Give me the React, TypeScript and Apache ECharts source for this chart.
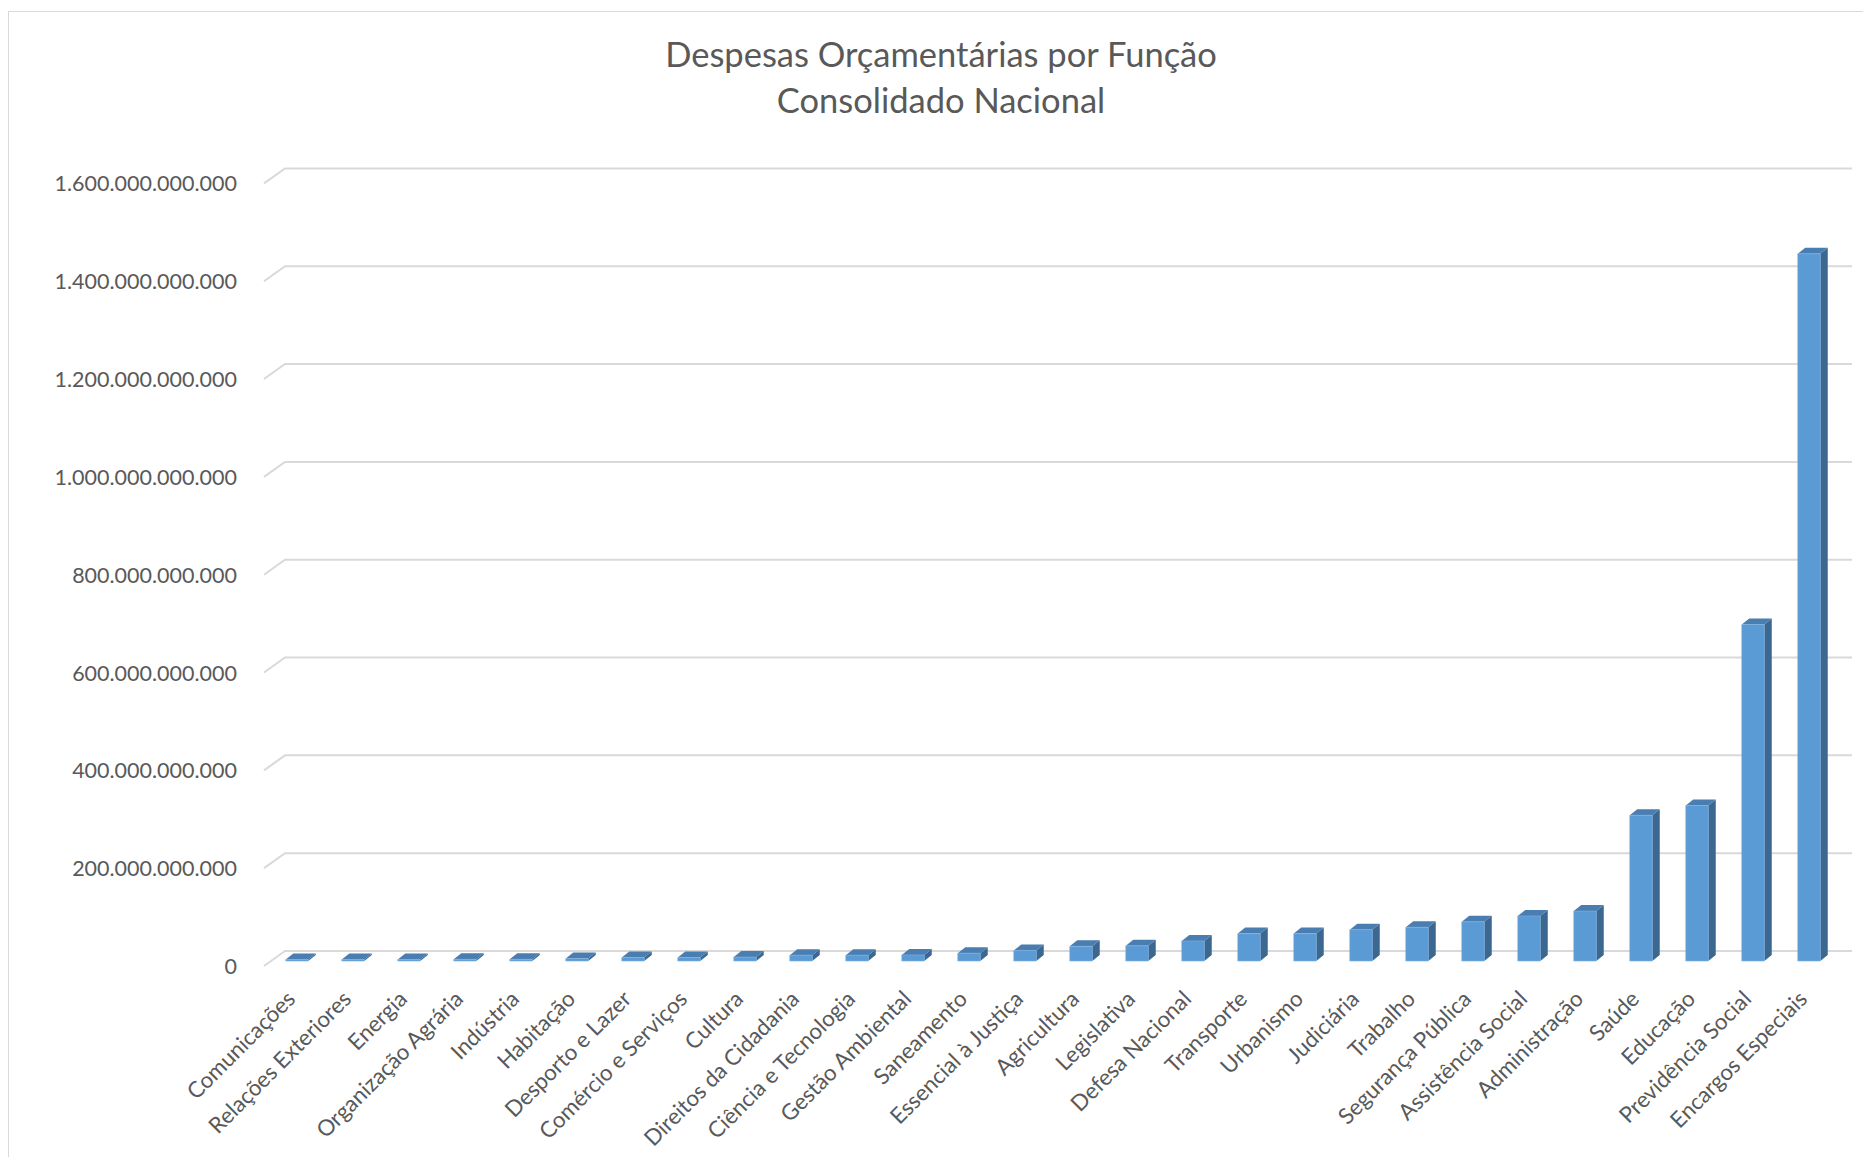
import React, { useEffect, useRef } from "react";
import * as echarts from "echarts";

const titleLines = ["Despesas Orçamentárias por Função", "Consolidado Nacional"];

const categories = [
  "Comunicações",
  "Relações Exteriores",
  "Energia",
  "Organização Agrária",
  "Indústria",
  "Habitação",
  "Desporto e Lazer",
  "Comércio e Serviços",
  "Cultura",
  "Direitos da Cidadania",
  "Ciência e Tecnologia",
  "Gestão Ambiental",
  "Saneamento",
  "Essencial à Justiça",
  "Agricultura",
  "Legislativa",
  "Defesa Nacional",
  "Transporte",
  "Urbanismo",
  "Judiciária",
  "Trabalho",
  "Segurança Pública",
  "Assistência Social",
  "Administração",
  "Saúde",
  "Educação",
  "Previdência Social",
  "Encargos Especiais",
];

// values in billions (R$ bilhões)
const valuesBillions = [
  3, 3, 3, 3.5, 3.5, 5, 7, 7, 8, 12, 12, 12.5, 16, 21.5, 30, 31, 41, 56, 56, 64,
  69, 80, 92, 102, 298, 318, 688, 1446,
];

const yTickValues = [0, 200, 400, 600, 800, 1000, 1200, 1400, 1600];
const yTickLabels = [
  "0",
  "200.000.000.000",
  "400.000.000.000",
  "600.000.000.000",
  "800.000.000.000",
  "1.000.000.000.000",
  "1.200.000.000.000",
  "1.400.000.000.000",
  "1.600.000.000.000",
];

const FONT = "Lato";
const TEXT_COLOR = "#595959";

export default function App() {
  const ref = useRef<HTMLDivElement>(null);

  useEffect(() => {
    if (!ref.current) return;
    const chart = echarts.init(ref.current, null, { renderer: "svg" });

    const FRONT = "#5b9bd5";
    const TOP = "#4a7db0";
    const SIDE = "#3b6790";
    const HW = 11.25; // half width of bar front face
    const BDX = 7.5; // bar depth x
    const BDY = 6; // bar depth y
    const FSHIFT = 5; // bar front face lifted from front floor
    const WDX = 21; // wall depth x
    const WDY = 15; // wall depth y

    const option: any = {
      animation: false,
      backgroundColor: "transparent",
      graphic: [
        {
          type: "text",
          x: 941,
          y: 53.5,
          style: {
            text: titleLines[0],
            fill: TEXT_COLOR,
            font: `normal 34.5px ${FONT}`,
            align: "center",
            verticalAlign: "middle",
          },
        },
        {
          type: "text",
          x: 941,
          y: 99,
          style: {
            text: titleLines[1],
            fill: TEXT_COLOR,
            font: `normal 34.5px ${FONT}`,
            align: "center",
            verticalAlign: "middle",
          },
        },
      ],
      grid: {
        left: 269,
        top: 183.4,
        width: 1568,
        height: 782.6,
        containLabel: false,
      },
      xAxis: {
        type: "category",
        data: categories,
        boundaryGap: true,
        axisLine: { show: false },
        axisTick: { show: false },
        splitLine: { show: false },
        axisLabel: {
          interval: 0,
          rotate: 45,
          margin: 22,
          padding: [0, 9, 0, 0],
          fontSize: 22.3,
          fontFamily: FONT,
          color: TEXT_COLOR,
        },
      },
      yAxis: {
        type: "value",
        min: 0,
        max: 1600,
        interval: 200,
        axisLine: { show: false },
        axisTick: { show: false },
        splitLine: { show: false },
        axisLabel: {
          margin: 32,
          fontSize: 21.5,
          fontFamily: FONT,
          color: TEXT_COLOR,
          formatter: (v: number) => {
            const i = yTickValues.indexOf(v);
            return i >= 0 ? yTickLabels[i] : "";
          },
        },
      },
      series: [
        {
          type: "custom",
          name: "walls",
          z: 1,
          clip: false,
          silent: true,
          encode: { x: 0, y: 1 },
          data: yTickValues.map((v) => [0, v]),
          renderItem: (params: any, api: any) => {
            const cs = params.coordSys;
            const p = api.coord([0, api.value(1)]);
            const y = p[1];
            return {
              type: "polyline",
              shape: {
                points: [
                  [cs.x - 5, y],
                  [cs.x - 5 + WDX, y - WDY],
                  [cs.x + cs.width + 15, y - WDY],
                ],
              },
              style: { stroke: "#d9d9d9", lineWidth: 2, fill: "none" },
            };
          },
        },
        {
          type: "custom",
          name: "Despesas",
          z: 2,
          clip: false,
          encode: { x: 0, y: 1 },
          data: valuesBillions.map((v, i) => [i, v]),
          renderItem: (params: any, api: any) => {
            const k = api.value(0);
            const v = api.value(1);
            const base = api.coord([k, 0]);
            const top = api.coord([k, v]);
            const cx = base[0];
            const yb = base[1] - FSHIFT;
            const yt = top[1] - FSHIFT;
            return {
              type: "group",
              children: [
                {
                  type: "polygon",
                  shape: {
                    points: [
                      [cx + HW, yt],
                      [cx + HW + BDX, yt - BDY],
                      [cx + HW + BDX, yb - BDY],
                      [cx + HW, yb],
                    ],
                  },
                  style: { fill: SIDE },
                },
                {
                  type: "polygon",
                  shape: {
                    points: [
                      [cx - HW, yt],
                      [cx - HW + BDX, yt - BDY],
                      [cx + HW + BDX, yt - BDY],
                      [cx + HW, yt],
                    ],
                  },
                  style: { fill: TOP },
                },
                {
                  type: "rect",
                  shape: { x: cx - HW, y: yt, width: 2 * HW, height: Math.max(yb - yt, 0.5) },
                  style: { fill: FRONT, stroke: "#7fb2e3", lineWidth: 0.6 },
                },
              ],
            };
          },
        },
      ],
    };

    chart.setOption(option);
    return () => chart.dispose();
  }, []);

  return (
    <div
      style={{
        position: "fixed",
        left: 0,
        top: 0,
        width: "100vw",
        height: "100vh",
        overflow: "hidden",
        background: "#ffffff",
      }}
    >
      <div
        style={{
          position: "absolute",
          left: 8,
          top: 11,
          width: 3000,
          height: 3000,
          border: "1px solid #d9d9d9",
          boxSizing: "border-box",
        }}
      />
      <div
        ref={ref}
        style={{ position: "absolute", left: 0, top: 0, width: 1863, height: 1157 }}
      />
    </div>
  );
}
